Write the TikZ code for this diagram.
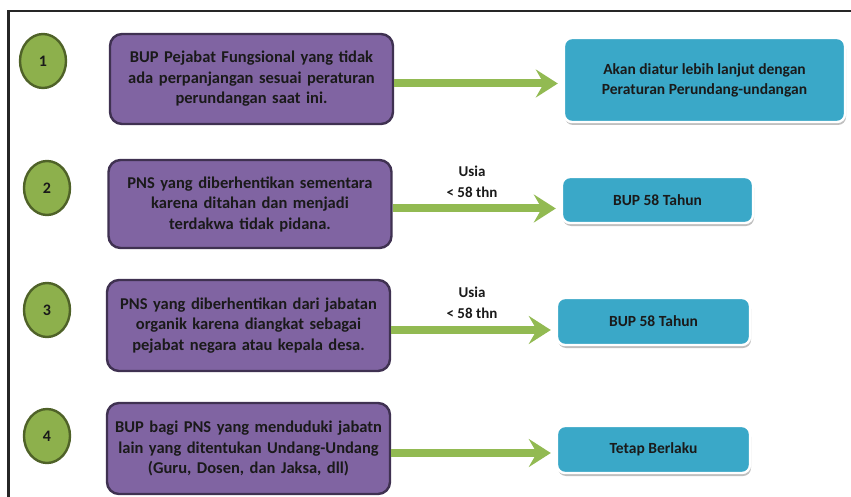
\documentclass[tikz,border=0pt]{standalone}
\usepackage{fontspec}
\setmainfont{Carlito}
\usetikzlibrary{arrows.meta,shapes.geometric,shadows}
\definecolor{numgreen}{HTML}{8DB04C}
\definecolor{numdark}{HTML}{4F6228}
\definecolor{boxpurple}{HTML}{8064A2}
\definecolor{purpledark}{HTML}{3F3151}
\definecolor{boxblue}{HTML}{3AA8C8}
\definecolor{arrgreen}{HTML}{92BA52}
\definecolor{txtdark}{HTML}{1A1A1A}
\begin{document}
\begin{tikzpicture}[x=1pt,y=-1pt,
    num/.style={ellipse, draw=numdark, line width=2.4pt, fill=numgreen,
        minimum width=46pt, minimum height=54pt, inner sep=0pt,
        text=txtdark, font=\bfseries\fontsize{16}{18}\selectfont},
    casebox/.style={draw=purpledark, line width=2.4pt, fill=boxpurple,
        rounded corners=12pt, minimum width=283pt, text width=274pt,
        align=center, text=txtdark, font=\bfseries\fontsize{16.5}{20.5}\selectfont},
    resbox/.style={draw=white, line width=2.4pt, fill=boxblue,
        rounded corners=8pt, align=center, text=txtdark,
        font=\bfseries\fontsize{15.5}{20}\selectfont,
        drop shadow={shadow xshift=1pt, shadow yshift=-3pt, fill=black!50, opacity=0.5}},
    arr/.style={draw=arrgreen, line width=8pt,
        -{Stealth[length=22pt, width=28pt, inset=8pt]}, shorten >=5pt},
    lbl/.style={align=center, text=txtdark, font=\bfseries\fontsize{15}{21}\selectfont}]
    \useasboundingbox (0,0) rectangle (851,497);

    % frame
    \draw[line width=2.5pt, black!85] (8.5,497) -- (8.5,11) -- (851,11);

    % numbers
    \foreach \i/\x/\y in {1/43/61, 2/47/188, 3/47/310, 4/47/436}
        \node[num] (n\i) at (\x,\y) {\i};

    % cases
    \node[casebox, minimum height=90pt] (p1) at (251.5,79) {BUP Pejabat Fungsional  yang tidak\\ ada perpanjangan  sesuai peraturan\\ perundangan  saat ini.};
    \node[casebox, minimum height=88pt] (p2) at (250,204) {PNS yang diberhentikan sementara\\ karena ditahan dan menjadi\\ terdakwa tidak pidana.};
    \node[casebox, minimum height=91pt] (p3) at (248.5,325.5) {PNS  yang diberhentikan dari jabatan\\ organik karena diangkat sebagai\\ pejabat negara atau kepala desa.};
    \node[casebox, minimum height=91pt] (p4) at (248.5,448.5) {BUP bagi PNS yang menduduki  jabatn\\ lain yang ditentukan Undang-Undang\\ (Guru, Dosen, dan Jaksa, dll)};

    % results
    \node[resbox, minimum width=281pt, minimum height=84pt] (b1) at (704.5,80) {Akan diatur lebih lanjut dengan\\ Peraturan Perundang-undangan};
    \node[resbox, minimum width=191pt, minimum height=46pt] (b2) at (657.5,200) {BUP 58 Tahun};
    \node[resbox, minimum width=193pt, minimum height=47pt] (b3) at (653.5,321.5) {BUP 58 Tahun};
    \node[resbox, minimum width=193pt, minimum height=47pt] (b4) at (653.5,449.5) {Tetap Berlaku};

    % arrows
    \foreach \i in {1,...,4}
        \draw[arr] ([yshift=-4.5pt]p\i.east) -- ([yshift=-4.5pt]p\i.east -| b\i.west);

    \node[lbl] (u2) at (472,182) {Usia\\ < 58 thn};
    \node[lbl] (u3) at (472,303) {Usia\\ < 58 thn};
\end{tikzpicture}
\end{document}
